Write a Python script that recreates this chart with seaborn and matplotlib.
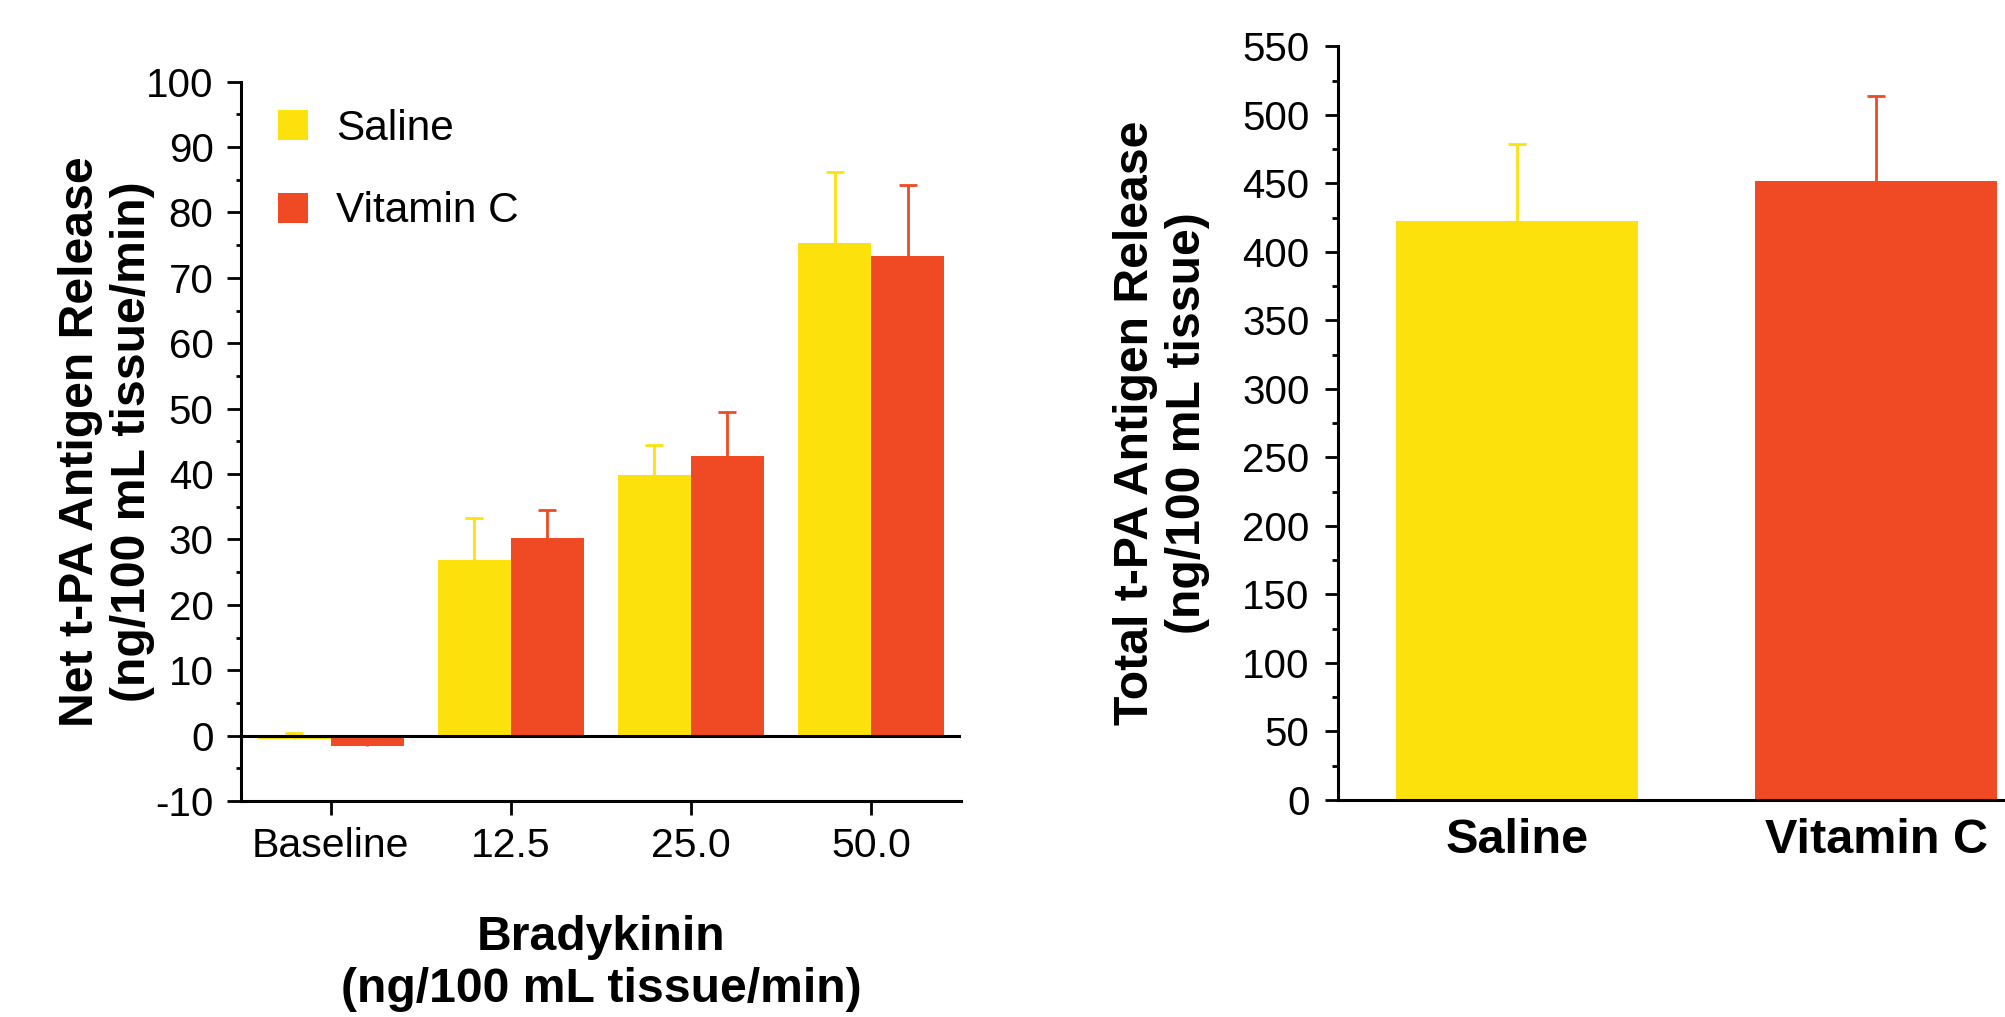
import numpy as np
import pandas as pd
import matplotlib.pyplot as plt
from matplotlib.ticker import MultipleLocator
import seaborn as sns

sns.set_style('ticks')
plt.rcParams['font.family'] = ['Liberation Sans', 'DejaVu Sans']
plt.rcParams['axes.unicode_minus'] = False
for k in ['text.color', 'axes.labelcolor', 'xtick.color', 'ytick.color', 'axes.edgecolor']:
    plt.rcParams[k] = 'black'

# Data
doses = ['Baseline', '12.5', '25.0', '50.0']
groups = ['Saline', 'Vitamin C']
saline_net = [-0.5, 26.9, 39.9, 75.4]
saline_net_err = [0.9, 6.3, 4.6, 10.8]
vitc_net = [-1.6, 30.2, 42.7, 73.3]
vitc_net_err = [0.8, 4.3, 6.8, 10.9]
total_mean = [422.6, 451.5]
total_err = [56.4, 62.0]

colors = ['#FDE10D', '#F04A24']

net = pd.DataFrame({
    'dose': doses * 2,
    'group': ['Saline'] * 4 + ['Vitamin C'] * 4,
    'value': saline_net + vitc_net,
})
net_err = {'Saline': saline_net_err, 'Vitamin C': vitc_net_err}
net_vals = {'Saline': saline_net, 'Vitamin C': vitc_net}

total = pd.DataFrame({'group': groups, 'value': total_mean})


def upper_errorbar(ax, xs, vals, errs, color):
    # one-sided (upward) error bars with a cap only at the top
    _, caps, _ = ax.errorbar(xs, vals, yerr=[np.zeros(len(xs)), errs],
                             fmt='none', ecolor=color, elinewidth=2,
                             capsize=6.5, capthick=2, zorder=1)
    for cl in caps:
        if np.allclose(cl.get_ydata(), vals):
            cl.set_visible(False)


fig = plt.figure(figsize=(20.05, 10.17), dpi=100)
ax1 = fig.add_axes([0.12, 0.2124, 0.3594, 0.7073])
ax2 = fig.add_axes([0.6673, 0.2134, 0.3579, 0.7409])

tick_fs = 29.5
label_fs = 34.7
lw = 2.2

# Left panel: net release
sns.barplot(data=net, x='dose', y='value', hue='group', order=doses,
            hue_order=groups, palette=colors, width=0.81, saturation=1,
            errorbar=None, linewidth=0, ax=ax1)
for cont, g, c in zip(ax1.containers, groups, colors):
    xs = [b.get_x() + b.get_width() / 2 for b in cont]
    upper_errorbar(ax1, xs, net_vals[g], net_err[g], c)
ax1.axhline(0, color='black', lw=lw, zorder=3)
ax1.set_xlim(-0.5, 3.5)
ax1.set_ylim(-10, 100)
ax1.yaxis.set_major_locator(MultipleLocator(10))
ax1.yaxis.set_minor_locator(MultipleLocator(5))
ax1.tick_params(axis='y', which='major', labelsize=29, length=10, width=2, pad=9.5)
ax1.tick_params(axis='y', which='minor', length=3.8, width=2)
ax1.tick_params(axis='x', labelsize=tick_fs, length=10, width=2, pad=9)
ax1.set_xlabel('Bradykinin\n(ng/100 mL tissue/min)', fontsize=label_fs,
               fontweight='bold', linespacing=1.22)
ax1.xaxis.set_label_coords(0.5, -0.158)
ax1.set_ylabel('Net t-PA Antigen Release\n(ng/100 mL tissue/min)',
               fontsize=label_fs, fontweight='bold', linespacing=1.2)
ax1.yaxis.set_label_coords(-0.1187, 0.5)
leg = ax1.legend(loc='upper left', bbox_to_anchor=(0.052, 0.962),
                 frameon=False, fontsize=30.5, handlelength=0.71,
                 handleheight=0.71, handletextpad=0.66, labelspacing=1.0,
                 borderpad=0, borderaxespad=0)
leg.set_title(None)
sns.despine(ax=ax1)
for s in ['left', 'bottom']:
    ax1.spines[s].set_linewidth(lw)

# Right panel: total release
sns.barplot(data=total, x='group', y='value', hue='group', order=groups,
            hue_order=groups, palette=colors, width=0.674, saturation=1,
            errorbar=None, legend=False, linewidth=0, ax=ax2)
for cont, m, e, c in zip(ax2.containers, total_mean, total_err, colors):
    xs = [b.get_x() + b.get_width() / 2 for b in cont]
    upper_errorbar(ax2, xs, [m], [e], c)
ax2.set_xlim(-0.5, 1.5)
ax2.set_ylim(0, 550)
ax2.yaxis.set_major_locator(MultipleLocator(50))
ax2.yaxis.set_minor_locator(MultipleLocator(25))
ax2.tick_params(axis='y', which='major', labelsize=29, length=9.5, width=2, pad=11)
ax2.tick_params(axis='y', which='minor', length=4.3, width=2)
ax2.tick_params(axis='x', length=0, pad=13)
for t in ax2.get_xticklabels():
    t.set_fontsize(35)
    t.set_fontweight('bold')
ax2.set_xlabel('')
ax2.set_ylabel('Total t-PA Antigen Release\n(ng/100 mL tissue)',
               fontsize=label_fs, fontweight='bold', linespacing=1.22)
ax2.yaxis.set_label_coords(-0.178, 0.5)
sns.despine(ax=ax2)
for s in ['left', 'bottom']:
    ax2.spines[s].set_linewidth(lw)

fig.savefig('out.png', dpi=100)
